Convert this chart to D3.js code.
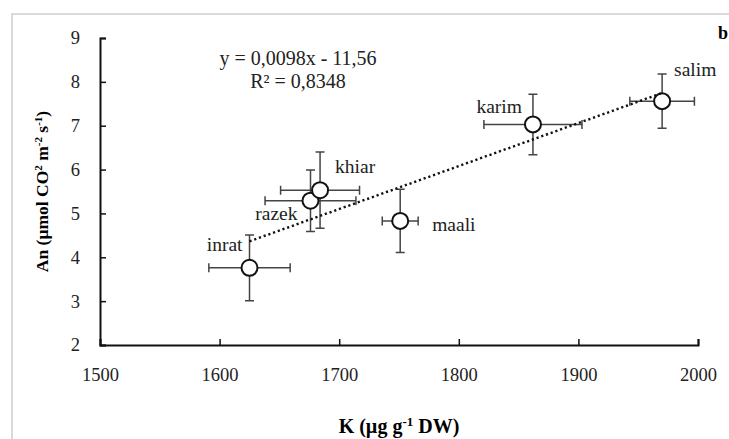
<!DOCTYPE html>
<html>
<head>
<meta charset="utf-8">
<script src="https://cdn.jsdelivr.net/npm/d3@7"></script>
<style>
	body { margin: 0; background: #fff; }
	svg { display: block; font-family: 'Liberation Serif', 'Times New Roman', serif; }
</style>
</head>
<body>
<div id="chart"><svg width="729" height="439"></svg></div>
<script>
// data
var cultivars = ['inrat', 'razek', 'khiar', 'maali', 'karim', 'salim'];
var kValues = [1625, 1676, 1684, 1751, 1862, 1970];
var kErrors = [34, 38, 33, 15, 41, 27];
var anValues = [3.76, 5.29, 5.53, 4.83, 7.03, 7.56];
var anErrors = [0.75, 0.70, 0.87, 0.72, 0.69, 0.62];
var xTicks = [1500, 1600, 1700, 1800, 1900, 2000];
var yTicks = [2, 3, 4, 5, 6, 7, 8, 9];
var trendSlope = 0.0098;
var trendIntercept = -11.56;
var equationLines = ['y = 0,0098x - 11,56', 'R² = 0,8348'];

var svg = d3.select('#chart > svg');
var margin = { top: 38, left: 100, bottom: 94, right: 31 };
var width = 729 - margin.left - margin.right;
var height = 439 - margin.top - margin.bottom;

// light frame
svg.append('path')
	.attr('d', 'M12,439 V14 H729')
	.attr('fill', 'none')
	.attr('stroke', '#d9d9d9')
	.attr('stroke-width', 2);

var xScale = d3.scaleLinear().domain([1500, 2000]).range([0, width]);
var yScale = d3.scaleLinear().domain([2, 9]).range([height, 0]);

var g = svg.append('g')
	.attr('transform', 'translate(' + [margin.left, margin.top] + ')');

// axes, ticks pointing inward
var xAxis = g.append('g')
	.attr('transform', 'translate(0,' + height + ')')
	.call(d3.axisTop(xScale).tickValues(xTicks).tickSize(6).tickSizeOuter(6).tickFormat(d3.format('d')));
xAxis.selectAll('text')
	.attr('y', 36)
	.attr('dy', 0);

var yAxis = g.append('g')
	.call(d3.axisRight(yScale).tickValues(yTicks).tickSize(6).tickSizeOuter(6).tickFormat(d3.format('d')));
yAxis.selectAll('text')
	.attr('x', -20)
	.attr('text-anchor', 'end');

g.selectAll('.domain').attr('stroke', '#111').attr('stroke-width', 2);
g.selectAll('.tick line').attr('stroke', '#111').attr('stroke-width', 1.5);
g.selectAll('.tick text')
	.attr('fill', '#222')
	.style('font-family', 'Liberation Serif, serif')
	.style('font-size', '18.5px');

var points = cultivars.map(function(name, i) {
	return { name: name, k: kValues[i], kErr: kErrors[i], an: anValues[i], anErr: anErrors[i] };
});

// error bars
var cap = 4.5;
var bars = g.append('g').attr('class', 'errors')
	.attr('stroke', '#444')
	.attr('stroke-width', 1.5)
	.attr('fill', 'none');
bars.selectAll('path.h')
	.data(points)
	.enter().append('path')
	.attr('class', 'h')
	.attr('d', function(d) {
		var x1 = xScale(d.k - d.kErr), x2 = xScale(d.k + d.kErr), y = yScale(d.an);
		return 'M' + x1 + ',' + y + 'H' + x2 +
			'M' + x1 + ',' + (y - cap) + 'V' + (y + cap) +
			'M' + x2 + ',' + (y - cap) + 'V' + (y + cap);
	});
bars.selectAll('path.v')
	.data(points)
	.enter().append('path')
	.attr('class', 'v')
	.attr('d', function(d) {
		var y1 = yScale(d.an - d.anErr), y2 = yScale(d.an + d.anErr), x = xScale(d.k);
		return 'M' + x + ',' + y1 + 'V' + y2 +
			'M' + (x - cap) + ',' + y1 + 'H' + (x + cap) +
			'M' + (x - cap) + ',' + y2 + 'H' + (x + cap);
	});

// markers
g.append('g').selectAll('circle')
	.data(points)
	.enter().append('circle')
	.attr('cx', function(d) { return xScale(d.k) })
	.attr('cy', function(d) { return yScale(d.an) })
	.attr('r', 8)
	.attr('fill', '#fff')
	.attr('stroke', '#111')
	.attr('stroke-width', 2);

// trend line on top
var kExtent = d3.extent(kValues);
g.append('line')
	.attr('x1', xScale(kExtent[0]))
	.attr('y1', yScale(trendSlope * kExtent[0] + trendIntercept))
	.attr('x2', xScale(kExtent[1]))
	.attr('y2', yScale(trendSlope * kExtent[1] + trendIntercept))
	.attr('stroke', '#111')
	.attr('stroke-width', 2.4)
	.attr('stroke-dasharray', '2.2,2.8');

// point labels
var labelPlace = {
	inrat: [-7, -17, 'end'],
	razek: [-13, 19, 'end'],
	khiar: [15, -17, 'start'],
	maali: [32, 10, 'start'],
	karim: [-11, -11, 'end'],
	salim: [12, -25, 'start']
};
g.append('g').selectAll('text')
	.data(points)
	.enter().append('text')
	.attr('x', function(d) { return xScale(d.k) + labelPlace[d.name][0] })
	.attr('y', function(d) { return yScale(d.an) + labelPlace[d.name][1] })
	.attr('text-anchor', function(d) { return labelPlace[d.name][2] })
	.attr('fill', '#222')
	.style('font-size', '19.5px')
	.text(function(d) { return d.name });

// equation
g.append('g').selectAll('text')
	.data(equationLines)
	.enter().append('text')
	.attr('x', 198)
	.attr('y', function(d, i) { return 27 + i * 23 })
	.attr('text-anchor', 'middle')
	.attr('fill', '#222')
	.style('font-size', '20px')
	.text(function(d) { return d });

// panel letter
svg.append('text')
	.attr('x', 718)
	.attr('y', 39)
	.style('font-size', '18px')
	.style('font-weight', 'bold')
	.text('b');

// axis titles
var xTitle = svg.append('text')
	.attr('x', margin.left + width / 2)
	.attr('y', 433)
	.attr('text-anchor', 'middle')
	.style('font-size', '20px')
	.style('font-weight', 'bold');
xTitle.append('tspan').text('K (µg g');
xTitle.append('tspan').attr('dy', -7).style('font-size', '13px').text('-1');
xTitle.append('tspan').attr('dy', 7).text(' DW)');

var yTitle = svg.append('text')
	.attr('transform', 'translate(48,' + (margin.top + height / 2) + ') rotate(-90)')
	.attr('text-anchor', 'middle')
	.style('font-size', '17.5px')
	.style('font-weight', 'bold');
yTitle.append('tspan').text('An (µmol CO');
yTitle.append('tspan').attr('dy', -6).style('font-size', '11px').text('2');
yTitle.append('tspan').attr('dy', 6).text(' m');
yTitle.append('tspan').attr('dy', -6).style('font-size', '11px').text('-2');
yTitle.append('tspan').attr('dy', 6).text(' s');
yTitle.append('tspan').attr('dy', -6).style('font-size', '11px').text('-1');
yTitle.append('tspan').attr('dy', 6).text(')');
</script>
</body>
</html>
